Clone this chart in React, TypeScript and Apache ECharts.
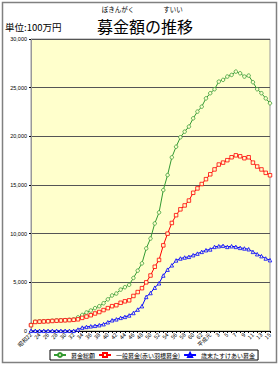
import React, { useEffect, useRef } from 'react';
import * as echarts from 'echarts';

const categories = [
  '昭和22', '23', '24', '25', '26', '27', '28', '29', '30', '31',
  '32', '33', '34', '35', '36', '37', '38', '39', '40', '41',
  '42', '43', '44', '45', '46', '47', '48', '49', '50', '51',
  '52', '53', '54', '55', '56', '57', '58', '59', '60', '61',
  '62', '63', '平成元', '2', '3', '4', '5', '6', '7', '8',
  '9', '10', '11', '12', '13', '14', '15',
];

const seriesNames = ['募金総額', '一般募金(赤い羽根募金)', '歳末たすけあい募金'];

const totalValues = [
  620, 950, 980, 1000, 1020, 1050, 1080, 1100, 1120, 1150,
  1180, 1400, 1650, 1900, 2100, 2350, 2550, 2850, 3250, 3650,
  3850, 4250, 4500, 4750, 5450, 6200, 6950, 8480, 9500, 11050,
  12180, 14480, 16020, 17840, 18930, 19900, 20480, 21000, 21850, 22540,
  23050, 23900, 24430, 24840, 25620, 25800, 26140, 26310, 26650, 26480,
  26140, 26240, 25560, 24840, 24430, 23900, 23400,
];

const generalValues = [
  600, 930, 960, 980, 1000, 1030, 1060, 1080, 1100, 1120,
  1150, 1200, 1350, 1480, 1620, 1800, 1950, 2150, 2350, 2550,
  2650, 2900, 3050, 3150, 3600, 4000, 4400, 5000, 5700, 6600,
  7300, 8800, 10000, 11100, 11900, 12500, 12900, 13400, 14200, 14650,
  15100, 15600, 16100, 16600, 17100, 17300, 17550, 17850, 18050, 17950,
  17750, 17850, 17300, 16900, 16600, 16250, 16000,
];

const yearEndValues = [
  20, 20, 20, 20, 20, 20, 20, 20, 20, 20,
  20, 150, 350, 420, 480, 530, 600, 700, 900, 1100,
  1200, 1350, 1450, 1600, 1850, 2200, 2550, 3500, 3900, 4450,
  4900, 5700, 6300, 6750, 7250, 7450, 7550, 7620, 7790, 7950,
  8130, 8300, 8380, 8640, 8710, 8750, 8640, 8710, 8640, 8540,
  8480, 8400, 8130, 7890, 7690, 7450, 7280,
];

const seriesColors = ['#339933', '#ff0000', '#0000ff'];
const seriesSymbols = ['circle', 'rect', 'triangle'];

const JP = '"Noto Sans CJK JP", "Noto Sans", sans-serif';
const LAT = '"Liberation Sans", Arial, sans-serif';

export default function App() {
  const ref = useRef<HTMLDivElement>(null);

  useEffect(() => {
    if (!ref.current) return;
    const chart = echarts.init(ref.current, undefined, { renderer: 'svg' });
    const dataSets = [totalValues, generalValues, yearEndValues];
    chart.setOption({
      animation: false,
      backgroundColor: '#ffffff',
      graphic: [
        {
          type: 'rect',
          shape: { x: 2.5, y: 2.5, width: 274, height: 360 },
          style: { fill: 'none', stroke: '#808080', lineWidth: 1.5 },
          silent: true,
        },
        {
          type: 'text',
          x: 145,
          y: 26,
          style: {
            text: '募金額の推移',
            font: `16px ${JP}`,
            fill: '#000',
            textAlign: 'center',
            textVerticalAlign: 'middle',
          },
        },
        {
          type: 'text',
          x: 118,
          y: 9,
          style: {
            text: 'ぼきんがく',
            font: `6.5px ${JP}`,
            fill: '#000',
            textAlign: 'center',
            textVerticalAlign: 'middle',
          },
        },
        {
          type: 'text',
          x: 173,
          y: 9,
          style: {
            text: 'すいい',
            font: `6.5px ${JP}`,
            fill: '#000',
            textAlign: 'center',
            textVerticalAlign: 'middle',
          },
        },
        {
          type: 'text',
          x: 5,
          y: 27,
          style: {
            text: '単位:100万円',
            font: `9.5px ${JP}`,
            fill: '#000',
            textAlign: 'left',
            textVerticalAlign: 'middle',
          },
        },
      ],
      legend: {
        left: 50,
        top: 350,
        orient: 'horizontal',
        selectedMode: false,
        itemWidth: 12,
        itemHeight: 5,
        itemGap: 3,
        padding: [2, 3],
        borderColor: '#000',
        borderWidth: 1,
        backgroundColor: '#fff',
        textStyle: { fontSize: 6, fontFamily: JP, color: '#000' },
        data: seriesNames,
      },
      grid: {
        left: 31,
        right: 10,
        top: 39,
        bottom: 37,
        show: true,
        backgroundColor: '#ffffcc',
        borderColor: '#999999',
        borderWidth: 1,
      },
      xAxis: {
        type: 'category',
        data: categories,
        boundaryGap: false,
        axisLine: { lineStyle: { color: '#000', width: 1 } },
        axisTick: { show: true, interval: 0, length: 2, lineStyle: { color: '#000' } },
        axisLabel: {
          interval: 1,
          rotate: 45,
          fontSize: 5.5,
          fontFamily: JP,
          color: '#000',
          margin: 3,
        },
        splitLine: { show: false },
      },
      yAxis: {
        type: 'value',
        min: 0,
        max: 30000,
        interval: 5000,
        axisLine: { show: true, lineStyle: { color: '#999999' } },
        axisTick: { show: true, length: 2, lineStyle: { color: '#000' } },
        axisLabel: {
          fontSize: 5.5,
          fontFamily: LAT,
          color: '#000',
          margin: 4,
          formatter: (v: number) => v.toLocaleString('en-US'),
        },
        splitLine: { show: true, lineStyle: { color: '#555555', width: 1 } },
      },
      series: seriesNames.map((name, k) => ({
        name,
        type: 'line',
        data: dataSets[k],
        symbol: seriesSymbols[k],
        symbolSize: 3.5,
        showAllSymbol: true,
        lineStyle: { color: seriesColors[k], width: 1 },
        itemStyle: { color: '#ffffcc', borderColor: seriesColors[k], borderWidth: 0.8 },
        emphasis: { disabled: true },
      })),
    });
    return () => chart.dispose();
  }, []);

  return (
    <div
      ref={ref}
      style={{ position: 'fixed', left: 0, top: 0, width: 280, height: 368 }}
    />
  );
}
